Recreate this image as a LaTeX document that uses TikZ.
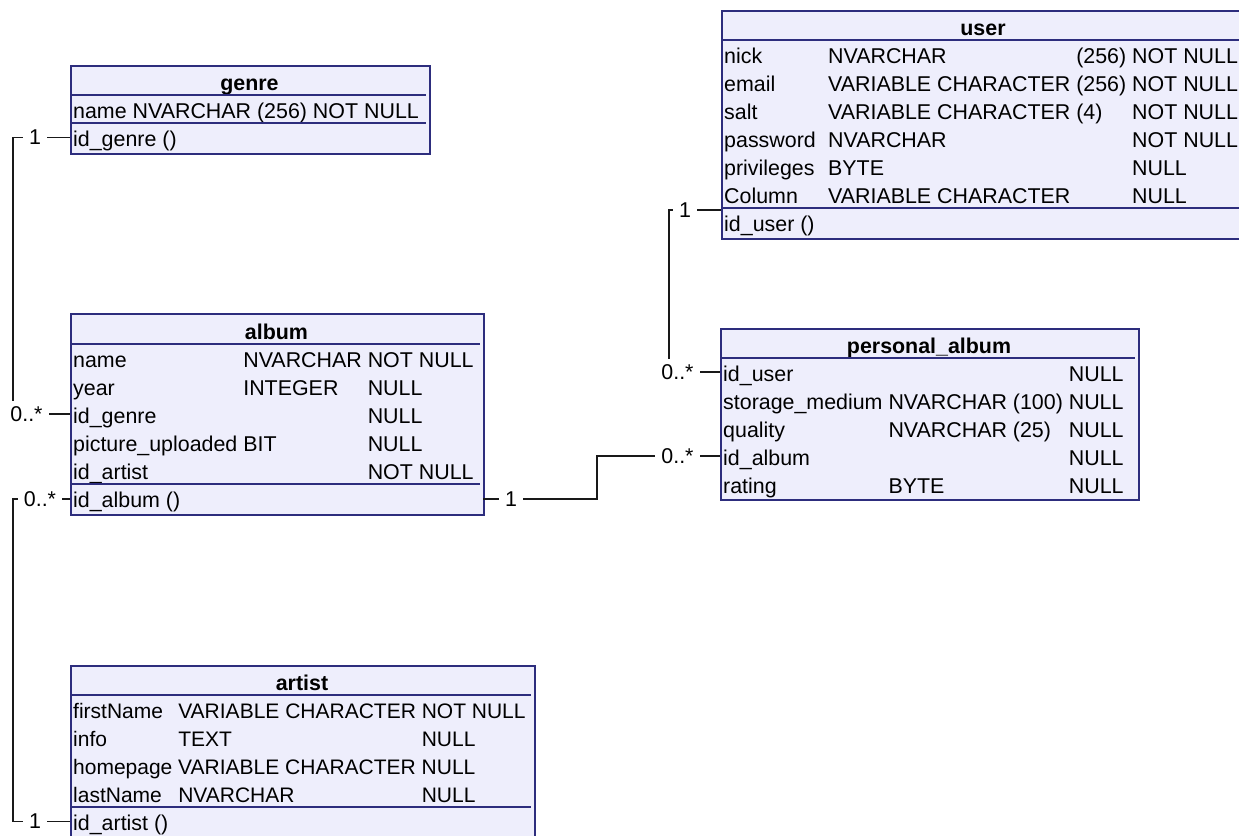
\documentclass[tikz,border=0pt]{standalone}
\usepackage{fontspec}
\setmainfont{Liberation Sans}
\usetikzlibrary{calc}
\definecolor{tblfill}{RGB}{238,238,252}
\definecolor{tblline}{RGB}{45,45,125}
\definecolor{connclr}{RGB}{25,25,25}
\newcommand{\tblfont}{\fontsize{21.4}{28}\selectfont}
\newcommand{\tblfontsm}{\fontsize{21.0}{28}\selectfont}
\tikzset{
  tbl/.style={draw=tblline, fill=tblfill, line width=1.6pt, inner sep=0pt, anchor=north west},
  ttl/.style={font=\tblfont\bfseries, inner sep=0pt, anchor=base},
  rows/.style={font=\tblfont, inner sep=0pt, anchor=north west, align=left},
  sepline/.style={draw=tblline, line width=1.6pt},
  conn/.style={draw=connclr, line width=1.8pt},
  card/.style={font=\tblfont, fill=white, inner xsep=6pt, inner ysep=5pt},
}
\begin{document}
\begin{tikzpicture}[x=1pt,y=-1pt]
\useasboundingbox (0,0) rectangle (1239,835);
\begin{scope}
\clip (0,0) rectangle (1239,835);
\fill[white] (0,0) rectangle (1239,835);

% ---------- genre ----------
\node[tbl, minimum width=359pt, minimum height=88pt] (genre) at (70,65) {};
\node[ttl] (genre-t) at (249.5,90) {genre};
\draw[sepline] (70,95) -- (426,95);
\node[rows] (genre-r) at (73,99) {\begin{tabular}{@{}l@{\ }l@{\ }l@{\ }l@{}}
name&NVARCHAR&(256)&NOT NULL\end{tabular}};
\draw[sepline] (70,123) -- (426,123);
\node[rows] (genre-k) at (73,127) {\begin{tabular}{@{}l@{}}id\_genre ()\end{tabular}};

% ---------- user ----------
\node[tbl, minimum width=524pt, minimum height=228pt] (user) at (721,10) {};
\node[ttl] (user-t) at (983,35) {user};
\draw[sepline] (721,40) -- (1245,40);
\node[rows] (user-r) at (724,44) {\begin{tabular}{@{}p{98pt}@{\ }l@{\ }l@{\ }l@{}}
nick&NVARCHAR&(256)&NOT NULL\\
email&VARIABLE CHARACTER&(256)&NOT NULL\\
salt&VARIABLE CHARACTER&(4)&NOT NULL\\
password&NVARCHAR&&NOT NULL\\
privileges&BYTE&&NULL\\
Column&VARIABLE CHARACTER&&NULL\end{tabular}};
\draw[sepline] (721,208) -- (1245,208);
\node[rows] (user-k) at (724,212) {\begin{tabular}{@{}l@{}}id\_user ()\end{tabular}};

% ---------- album ----------
\node[tbl, minimum width=413pt, minimum height=201pt] (album) at (70,313) {};
\node[ttl] (album-t) at (276.5,339) {album};
\draw[sepline] (70,344) -- (480,344);
\node[rows] (album-r) at (73,348) {\begin{tabular}{@{}l@{\ }l@{\ }l@{}}
name&NVARCHAR&NOT NULL\\
year&INTEGER&NULL\\
id\_genre&&NULL\\
picture\_uploaded&BIT&NULL\\
id\_artist&&NOT NULL\end{tabular}};
\draw[sepline] (70,484) -- (480,484);
\node[rows] (album-k) at (73,488) {\begin{tabular}{@{}l@{}}id\_album ()\end{tabular}};

% ---------- personal_album ----------
\node[tbl, minimum width=418pt, minimum height=171pt] (pers) at (720,328) {};
\node[ttl] (pers-t) at (929,353) {personal\_album};
\draw[sepline] (720,358) -- (1135,358);
\node[rows] (pers-r) at (723,362) {\begin{tabular}{@{}l@{\ }l@{\ }l@{\ }l@{}}
id\_user&&&NULL\\
storage\_medium&NVARCHAR&(100)&NULL\\
quality&NVARCHAR&(25)&NULL\\
id\_album&&&NULL\\
rating&BYTE&&NULL\end{tabular}};

% ---------- artist ----------
\node[tbl, minimum width=464pt, minimum height=172pt] (artist) at (70,665) {};
\node[ttl] (artist-t) at (302,690) {artist};
\draw[sepline] (70,695) -- (531,695);
\node[rows, font=\tblfontsm] (artist-r) at (73,699) {\begin{tabular}{@{}l@{\ }l@{\ }l@{}}
firstName&VARIABLE CHARACTER&NOT NULL\\
info&TEXT&NULL\\
homepage&VARIABLE CHARACTER&NULL\\
lastName&NVARCHAR&NULL\end{tabular}};
\draw[sepline] (70,807) -- (531,807);
\node[rows] (artist-k) at (73,811) {\begin{tabular}{@{}l@{}}id\_artist ()\end{tabular}};

% ---------- connector end points ----------
\coordinate (genre-id) at (70,137.5);
\coordinate (album-idg) at (70,414);
\coordinate (album-idl) at (70,499);
\coordinate (album-idr) at (483,499);
\coordinate (artist-id) at (70,821.5);
\coordinate (user-id) at (721,210);
\coordinate (pers-idu) at (720,372);
\coordinate (pers-ida) at (720,456);

% ---------- connectors ----------
\draw[conn] (genre-id) -| (13,414) -- (album-idg);
\draw[conn] (album-idl) -| (13,821.5) -- (artist-id);
\draw[conn] (album-idr) -- (597,499) |- (pers-ida);
\draw[conn] (user-id) -| (669,372) -- (pers-idu);

% ---------- cardinalities ----------
\node[card] (c1) at (35,137.5) {1};
\node[card] (c2) at (26.5,414) {0..*};
\node[card] (c3) at (40,499) {0..*};
\node[card] (c4) at (35,821.5) {1};
\node[card] (c5) at (511,499) {1};
\node[card] (c6) at (677.5,456) {0..*};
\node[card] (c7) at (685,210) {1};
\node[card] (c8) at (677.5,372) {0..*};
\end{scope}
\end{tikzpicture}
\end{document}
